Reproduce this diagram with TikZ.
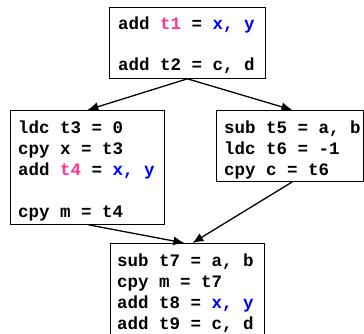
\documentclass[tikz,border=0pt]{standalone}
\usepackage{fontspec}
\setmonofont{Liberation Mono}
\usetikzlibrary{arrows.meta}
\definecolor{pinkt}{RGB}{255,51,153}
\definecolor{bluet}{RGB}{0,0,255}
\begin{document}
\begin{tikzpicture}[x=1pt,y=-1pt,
  blk/.style={draw, line width=0.8pt, inner sep=0pt, anchor=north west},
  code/.style={anchor=north west, inner sep=0pt, align=left,
    font=\fontsize{17.5}{21}\selectfont\ttfamily\bfseries},
  arr/.style={-{Latex[length=11pt,width=9pt]}, line width=1.3pt}]
\useasboundingbox (0,0) rectangle (364,333);
% boxes
\node[blk, minimum width=156pt, minimum height=71pt] (b1) at (109,7) {};
\node[blk, minimum width=154pt, minimum height=114pt] (b2) at (10,110) {};
\node[blk, minimum width=147pt, minimum height=71pt] (b3) at (216,110) {};
\node[blk, minimum width=154pt, minimum height=100pt] (b4) at (110,243) {};
% texts
\node[code] (t1) at (118,16.5) {add \textcolor{pinkt}{t1} = \textcolor{bluet}{x, y}\\[20pt]add t2 = c, d};
\node[code] (t2) at (18,120.5) {ldc t3 = 0\\cpy x = t3\\add \textcolor{pinkt}{t4} = \textcolor{bluet}{x, y}\\[21pt]cpy m = t4};
\node[code] (t3) at (224,121) {sub t5 = a, b\\ldc t6 = -1\\cpy c = t6};
\node[code] (t4) at (117,254) {sub t7 = a, b\\cpy m = t7\\add t8 = \textcolor{bluet}{x, y}\\add t9 = c, d};
% arrows
\draw[arr] (b1.south) -- (b2.north);
\draw[arr] (b1.south) -- ([xshift=2.5pt]b3.north);
\draw[arr] ([xshift=1pt]b2.south) -- ([xshift=-3pt]b4.north);
\draw[arr] ([xshift=2.5pt]b3.south) -- ([xshift=5pt]b4.north);
\end{tikzpicture}
\end{document}
